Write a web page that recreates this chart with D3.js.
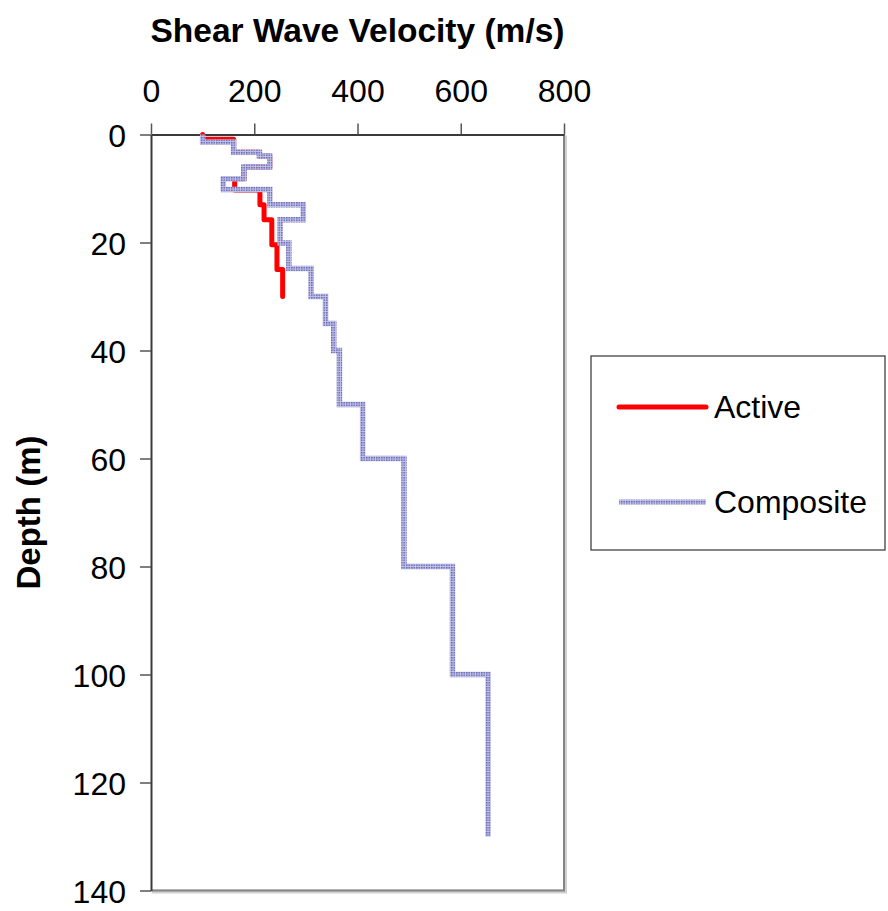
<!DOCTYPE html>
<html>
<head>
<meta charset="utf-8">
<script src="https://cdn.jsdelivr.net/npm/d3@7"></script>
<style>
  body { margin: 0; background: #fff; }
  text { font-family: "Liberation Sans", Arial, sans-serif; fill: #000; }
</style>
</head>
<body>
<div id="chart"></div>
<script>
// layer boundaries (m) and velocities (m/s)
const compositeDepth = [0, 1.4, 3.3, 4, 6, 8.2, 10.2, 13, 15.8, 20.1, 24.8, 30, 35, 40, 50, 60, 80, 100, 130];
const compositeVs = [100, 160, 210, 230, 180, 140, 230, 295, 250, 267, 310, 338, 354, 365, 410, 490, 584, 653];

const activeDepth = [0, 0.9, 3.3, 4, 6, 8.2, 10.3, 13, 15.8, 20.4, 25, 30];
const activeVs = [100, 160, 210, 230, 180, 162, 211, 219, 234, 244, 255];

const xTicks = [0, 200, 400, 600, 800];
const yTicks = [0, 20, 40, 60, 80, 100, 120, 140];

const svgWidth = 888, svgHeight = 911;
const margin = { top: 134.5, left: 151, right: 324, bottom: 20.5 };
const width = svgWidth - margin.left - margin.right;
const height = svgHeight - margin.top - margin.bottom;

const svg = d3.select("#chart")
  .append("svg")
  .attr("width", svgWidth)
  .attr("height", svgHeight);

// dotted texture for the composite line
const defs = svg.append("defs");
const pat = defs.append("pattern")
  .attr("id", "dots")
  .attr("patternUnits", "userSpaceOnUse")
  .attr("width", 2.5)
  .attr("height", 2.5);
pat.append("rect").attr("width", 2.5).attr("height", 2.5).attr("fill", "#c2c2e8");
pat.append("rect").attr("width", 1.5).attr("height", 1.5).attr("fill", "#6767b4");

const chartGroup = svg.append("g")
  .attr("transform", `translate(${margin.left}, ${margin.top})`);

const xScale = d3.scaleLinear().domain([0, 800]).range([0, width]);
const yScale = d3.scaleLinear().domain([0, 140]).range([0, height]);

// frame (right / bottom)
chartGroup.append("path")
  .attr("d", `M${width},0 V${height} H0`)
  .attr("fill", "none")
  .attr("stroke", "#d0d0d0")
  .attr("stroke-width", 4)
  .attr("transform", "translate(1,1)");
chartGroup.append("path")
  .attr("d", `M${width},0 V${height} H0`)
  .attr("fill", "none")
  .attr("stroke", "#848484")
  .attr("stroke-width", 2);

// axes
const xAxis = d3.axisTop(xScale).tickValues(xTicks).tickSize(11).tickSizeOuter(0).tickPadding(22);
const yAxis = d3.axisLeft(yScale).tickValues(yTicks).tickSize(11).tickSizeOuter(0).tickPadding(14);

const gx = chartGroup.append("g").call(xAxis);
const gy = chartGroup.append("g").call(yAxis);

[gx, gy].forEach(g => {
  g.select(".domain").attr("stroke", "#3a3a3a").attr("stroke-width", 2);
  g.selectAll(".tick line").attr("stroke", "#555").attr("stroke-width", 1.5);
  g.selectAll(".tick text")
    .attr("font-size", 32)
    .attr("font-family", "'Liberation Sans', Arial, sans-serif")
    .attr("fill", "#000");
});
gy.selectAll(".tick text").attr("dy", "0.36em");

// step profiles
function steps(depth, vs) {
  const pts = [];
  vs.forEach((v, i) => {
    pts.push([v, depth[i]]);
    pts.push([v, depth[i + 1]]);
  });
  return pts;
}

const line = d3.line()
  .x(d => xScale(d[0]))
  .y(d => yScale(d[1]));

chartGroup.append("path")
  .datum(steps(activeDepth, activeVs))
  .attr("d", line)
  .attr("fill", "none")
  .attr("stroke", "#ff0000")
  .attr("stroke-width", 5)
  .attr("stroke-linejoin", "round")
  .attr("stroke-linecap", "round");

chartGroup.append("path")
  .datum(steps(compositeDepth, compositeVs))
  .attr("d", line)
  .attr("fill", "none")
  .attr("stroke", "url(#dots)")
  .attr("stroke-width", 5.5)
  .attr("stroke-linejoin", "miter");

// titles
svg.append("text")
  .attr("x", margin.left + width / 2)
  .attr("y", 42)
  .attr("text-anchor", "middle")
  .attr("font-size", 33.5)
  .attr("font-weight", "bold")
  .text("Shear Wave Velocity (m/s)");

svg.append("text")
  .attr("transform", `translate(40, ${margin.top + height / 2}) rotate(-90)`)
  .attr("text-anchor", "middle")
  .attr("font-size", 33)
  .attr("font-weight", "bold")
  .text("Depth (m)");

// legend
const legend = svg.append("g").attr("transform", "translate(591, 356)");
legend.append("rect")
  .attr("width", 294)
  .attr("height", 194)
  .attr("fill", "#fff")
  .attr("stroke", "#333")
  .attr("stroke-width", 1.2);

legend.append("line")
  .attr("x1", 28).attr("x2", 115).attr("y1", 51).attr("y2", 51)
  .attr("stroke", "#ff0000").attr("stroke-width", 5).attr("stroke-linecap", "round");
legend.append("text").attr("x", 123).attr("y", 62).attr("font-size", 32).text("Active");

legend.append("line")
  .attr("x1", 28).attr("x2", 115).attr("y1", 146).attr("y2", 146)
  .attr("stroke", "url(#dots)").attr("stroke-width", 5);
legend.append("text").attr("x", 123).attr("y", 157).attr("font-size", 32).text("Composite");
</script>
</body>
</html>
